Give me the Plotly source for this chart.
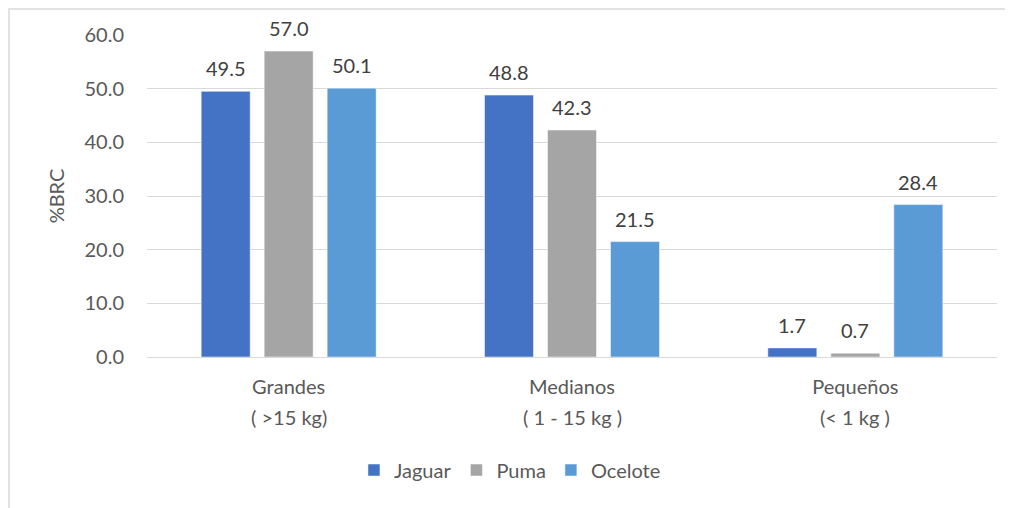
import plotly.graph_objects as go

categories = ["Grandes", "Medianos", "Pequeños"]
size_ranges = ["( >15 kg)", "( 1 - 15 kg )", "(< 1 kg )"]
jaguar = [49.5, 48.8, 1.7]
puma = [57.0, 42.3, 0.7]
ocelote = [50.1, 21.5, 28.4]

series = [("Jaguar", jaguar, "#4472C4"), ("Puma", puma, "#A5A5A5"), ("Ocelote", ocelote, "#5B9BD5")]

FONT = "Lato, Open Sans, sans-serif"
TXT = "#595959"
FS = 20

W, H = 1005, 500
ML, MR, MT, MB = 139, 16, 27, 151
BARGAP, BARGROUPGAP = 0.333, 0.222
plot_w = W - ML - MR
slot = plot_w / len(categories) * (1 - BARGAP) / len(series)

fig = go.Figure()
annotations = []
for i, (name, vals, col) in enumerate(series):
    fig.add_trace(go.Bar(
        x=categories, y=vals, name=name,
        marker=dict(color=col, line=dict(color="white", width=0.5)),
    ))
    for c, v in zip(categories, vals):
        annotations.append(dict(x=c, y=v, xref="x", yref="y", text=f"{v:.1f}", showarrow=False,
                                xshift=(i - (len(series) - 1) / 2) * slot, yshift=23,
                                yanchor="middle", font=dict(family=FONT, size=FS, color="#404040")))

for c, s in zip(categories, size_ranges):
    annotations.append(dict(x=c, y=-0.186, xref="x", yref="paper", text=s, showarrow=False,
                            yanchor="middle", font=dict(family=FONT, size=FS, color=TXT)))

fig.update_layout(
    width=W, height=H,
    margin=dict(l=ML, r=MR, t=MT, b=MB),
    paper_bgcolor="white", plot_bgcolor="white",
    barmode="group", bargap=BARGAP, bargroupgap=BARGROUPGAP,
    font=dict(family=FONT, size=FS, color=TXT),
    showlegend=True,
    legend=dict(orientation="h", x=0.427, xanchor="center", y=-0.351, yanchor="middle",
                font=dict(family=FONT, size=FS, color=TXT), itemwidth=30,
                traceorder="normal"),
    xaxis=dict(showgrid=False, showline=False, ticks="", ticklabelstandoff=16,
               tickfont=dict(size=FS, color=TXT)),
    yaxis=dict(range=[0, 60], dtick=10, tickformat=".1f", showgrid=True, gridcolor="#D9D9D9",
               gridwidth=1, zeroline=True, zerolinecolor="#D9D9D9", zerolinewidth=1,
               ticks="", ticklabelstandoff=22, tickfont=dict(size=FS, color=TXT),
               title=dict(text="%BRC", font=dict(size=FS, color=TXT), standoff=14)),
    annotations=annotations,
    shapes=[dict(type="rect", xref="paper", yref="paper", x0=-0.1624, x1=1.2, y0=-0.7, y1=1.081,
                 line=dict(color="#D9D9D9", width=1.5), fillcolor="rgba(0,0,0,0)", layer="below")],
)

fig.write_html("out.html")
